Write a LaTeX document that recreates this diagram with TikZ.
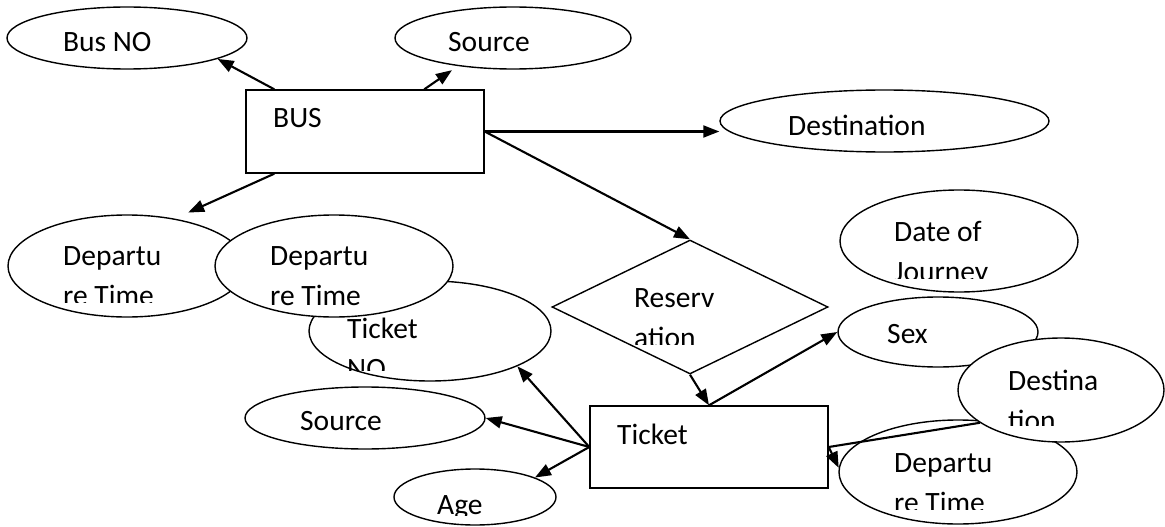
\documentclass[tikz,border=0pt]{standalone}
\usepackage{fontspec}
\setmainfont{Carlito}
\usetikzlibrary{shapes.geometric,arrows.meta}
\newcommand\twol[2]{\vtop{\hbox{#1}\hbox{#2}}}
\begin{document}
\begin{tikzpicture}[x=1pt,y=-1pt,
  attr/.style={ellipse,draw,fill=white,line width=1.4pt,inner sep=0pt},
  ent/.style={rectangle,draw,fill=white,line width=1.4pt,inner sep=0pt},
  rel/.style={diamond,draw,fill=white,line width=1.4pt,inner sep=0pt},
  lbl/.style={anchor=base west,inner sep=0pt,font=\fontsize{29.5}{40}\selectfont},
  conn/.style={line width=2.1pt,-{Triangle[length=16pt,width=12pt]}},
  plainline/.style={line width=2.1pt}]
\useasboundingbox (0,0) rectangle (1165,527);
% top attributes and BUS
\node[attr,minimum width=240pt,minimum height=62pt] (busno) at (127,38) {};
\node[lbl] (busno-t) at (63,52) {Bus NO};
\node[attr,minimum width=236pt,minimum height=62pt] (src1) at (513,38) {};
\node[lbl] (src1-t) at (448,52) {Source};
\node[ent,minimum width=238pt,minimum height=83pt] (bus) at (365,131.5) {};
\node[lbl] (bus-t) at (273,128) {BUS};
\node[attr,minimum width=329pt,minimum height=62pt] (dest1) at (884.5,121) {};
\node[lbl] (dest1-t) at (788,135) {Destination};
% left attributes
\node[attr,minimum width=238pt,minimum height=102pt] (dep1) at (127,266) {};
\begin{scope}\clip (0,200) rectangle (250,302);
\node[lbl] (dep1-t) at (63,265) {\twol{Departu}{re Time}};
\end{scope}
\node[attr,minimum width=242pt,minimum height=100pt] (ticketno) at (430,331) {};
\begin{scope}\clip (300,300) rectangle (560,370);
\node[lbl] (ticketno-t) at (347,338) {\twol{Ticket}{NO}};
\end{scope}
\node[attr,minimum width=238pt,minimum height=102pt] (dep2) at (334,266) {};
\begin{scope}\clip (210,200) rectangle (460,310);
\node[lbl] (dep2-t) at (270,265) {\twol{Departu}{re Time}};
\end{scope}
% relationship
\node[rel,minimum width=276pt,minimum height=134pt] (res) at (690,307) {};
\begin{scope}\clip (560,260) rectangle (820,344);
\node[lbl] (res-t) at (634,307) {\twol{Reserv}{ation}};
\end{scope}
% right attributes
\node[attr,minimum width=238pt,minimum height=102pt] (date) at (959,241) {};
\begin{scope}\clip (840,200) rectangle (1080,278);
\node[lbl] (date-t) at (894,241) {\twol{Date of}{Journey}};
\end{scope}
\node[attr,minimum width=200pt,minimum height=70pt] (sex) at (938,332) {};
\node[lbl] (sex-t) at (887,343) {Sex};
\node[attr,minimum width=238pt,minimum height=104pt] (dep3) at (958,472) {};
\begin{scope}\clip (840,430) rectangle (1080,509);
\node[lbl] (dep3-t) at (894,472) {\twol{Departu}{re Time}};
\end{scope}
\node[attr,minimum width=206pt,minimum height=104pt] (dest2) at (1061,390) {};
\begin{scope}\clip (960,340) rectangle (1165,425);
\node[lbl] (dest2-t) at (1008,390) {\twol{Destina}{tion}};
\end{scope}
% Ticket entity and its lower attributes
\node[ent,minimum width=238pt,minimum height=82pt] (ticket) at (709,447) {};
\node[lbl] (ticket-t) at (617,444) {Ticket};
\node[attr,minimum width=240pt,minimum height=62pt] (src2) at (365,418) {};
\node[lbl] (src2-t) at (300,430) {Source};
\node[attr,minimum width=162pt,minimum height=56pt] (age) at (475,497) {};
\begin{scope}\clip (390,460) rectangle (560,515);
\node[lbl] (age-t) at (437,514) {Age};
\end{scope}
% connectors
\draw[conn] ([xshift=29pt]bus.north west) -- (busno.-13);
\draw[conn] ([xshift=179pt]bus.north west) -- ([yshift=-5pt]src1.-156);
\draw[conn] ([xshift=29pt]bus.south west) -- ([yshift=9pt]dep1.36);
\draw[conn] (bus.east) -- (dest1.west |- bus.east);
\draw[conn] (bus.east) -- (res.north);
\draw[conn] (res.south) -- (ticket.north);
\draw[conn] (ticket.north) -- (sex.west);
\draw[conn] (ticket.west) -- (ticketno.-22.5);
\draw[conn] (ticket.west) -- (src2.east);
\draw[conn] (ticket.west) -- (age.18);
\draw[plainline] (ticket.east) -- (dest2.-158.4);
\draw[conn] (ticket.east) -- (dep3.178);
\end{tikzpicture}
\end{document}
